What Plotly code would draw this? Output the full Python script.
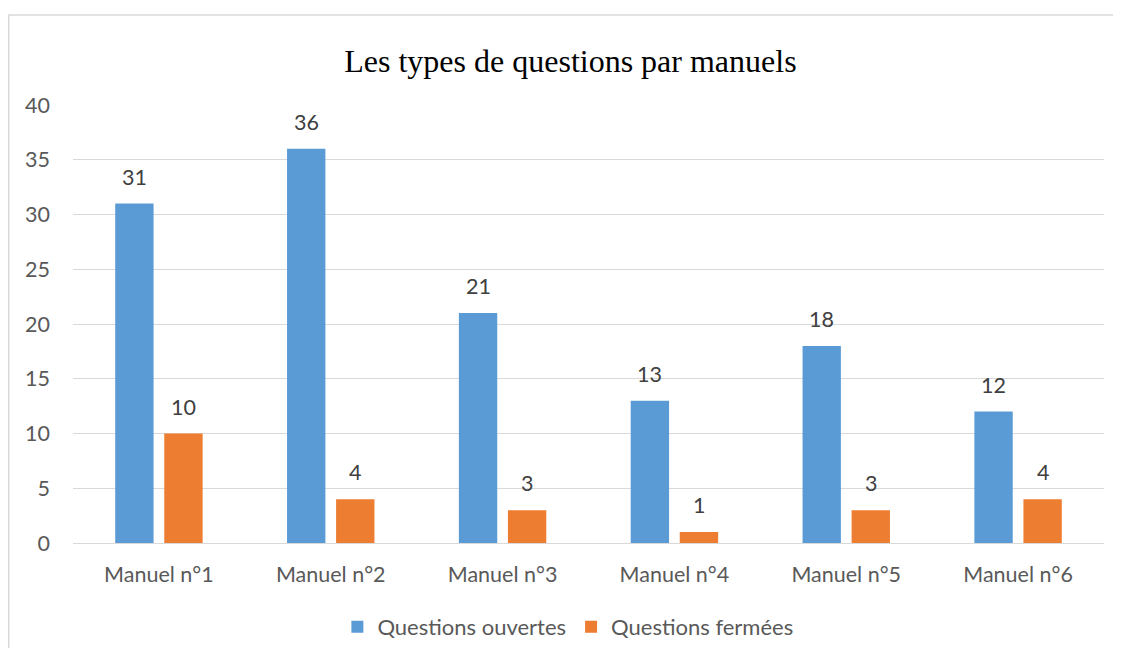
import plotly.graph_objects as go

categories = ["Manuel n°1", "Manuel n°2", "Manuel n°3", "Manuel n°4", "Manuel n°5", "Manuel n°6"]
ouvertes = [31, 36, 21, 13, 18, 12]
fermees = [10, 4, 3, 1, 3, 4]
series_names = ["Questions ouvertes", "Questions fermées"]
colors = ["#5b9bd5", "#ed7d31"]
y_ticks = [0, 5, 10, 15, 20, 25, 30, 35, 40]

FAMILY = "Lato, 'Open Sans', sans-serif"
TICK_FONT = dict(family=FAMILY, size=21.5, color="#595959")

fig = go.Figure()
for name, vals, col in zip(series_names, [ouvertes, fermees], colors):
    fig.add_trace(go.Bar(x=categories, y=vals, name=name, marker=dict(color=col, line=dict(width=0))))

annotations = []
for idx, vals in enumerate([ouvertes, fermees]):
    shift = -24.5 if idx == 0 else 24.5
    for c, v in zip(categories, vals):
        annotations.append(dict(x=c, y=v, xref="x", yref="y", text=str(v), showarrow=False,
                                yanchor="bottom", xshift=shift, yshift=12,
                                font=dict(family=FAMILY, size=21.5, color="#404040")))

fig.update_layout(
    width=1105, height=640,
    margin=dict(l=65, r=9, t=97, b=105, autoexpand=False),
    paper_bgcolor="white", plot_bgcolor="white",
    title=dict(text="Les types de questions par manuels", x=0.509, xanchor="center", xref="container",
               y=0.9, yanchor="bottom", yref="container",
               font=dict(family="'Liberation Serif', 'Times New Roman', serif", size=32, color="black")),
    barmode="group", bargap=0.429, bargroupgap=0.218,
    showlegend=True,
    legend=dict(orientation="h", x=0.48, xanchor="center", y=0.033, yanchor="middle", yref="container",
                font=dict(family=FAMILY, size=22, color="#595959"), itemwidth=30),
    annotations=annotations,
    shapes=[dict(type="rect", xref="paper", yref="paper", x0=-0.0623, x1=1.2, y0=-0.5, y1=1.2055,
                 line=dict(color="#d9d9d9", width=1.5), fillcolor="rgba(0,0,0,0)", layer="below")],
)
fig.update_yaxes(range=[0, 40], tickvals=y_ticks, showgrid=True, gridcolor="#d9d9d9", gridwidth=1,
                 zeroline=False, showline=False, tickfont=TICK_FONT, ticklabelstandoff=22)
fig.update_xaxes(showline=True, linecolor="#d9d9d9", linewidth=1, tickfont=TICK_FONT,
                 ticks="outside", ticklen=12, tickcolor="rgba(0,0,0,0)")

fig.write_html("out.html")
